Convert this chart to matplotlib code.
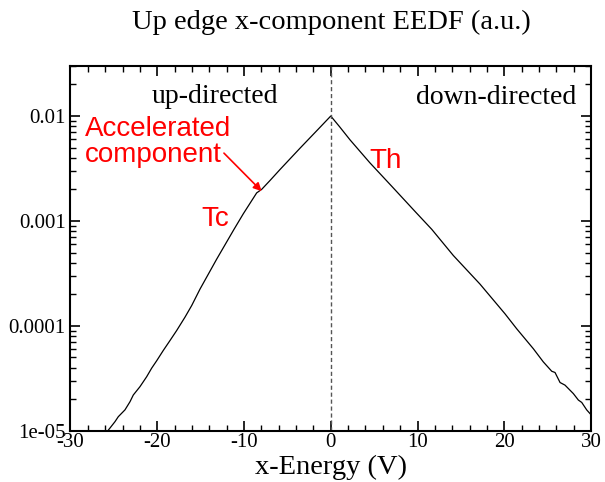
import numpy as np
import matplotlib
matplotlib.use("Agg")
import matplotlib.pyplot as plt
from matplotlib.ticker import FixedLocator, FixedFormatter, MultipleLocator, LogLocator, NullFormatter

plt.rcParams["font.family"] = ["Liberation Serif", "DejaVu Serif"]
plt.rcParams["axes.unicode_minus"] = False

# up-directed side (negative energy)
x_up = [-26.0, -25.45, -24.87, -24.49, -23.72, -23.14, -22.76, -21.99, -21.22, -20.64,
        -20.06, -19.30, -18.53, -17.76, -16.80, -16.03, -15.07, -13.15, -11.15, -10.08,
        -8.54, -7.96, -7.0, -5.85, -3.54, -1.5, 0.0]
eedf_up = [9.3e-6, 1.06e-5, 1.22e-5, 1.36e-5, 1.58e-5, 1.89e-5, 2.19e-5, 2.63e-5, 3.27e-5, 3.95e-5,
           4.65e-5, 5.83e-5, 7.24e-5, 9.02e-5, 1.21e-4, 1.56e-4, 2.24e-4, 4.32e-4, 8.32e-4, 1.17e-3,
           1.85e-3, 2.0e-3, 2.43e-3, 3.09e-3, 4.94e-3, 7.41e-3, 0.01]

# down-directed side (positive energy)
x_down = [0.0, 1.0, 2.22, 4.5, 7.03, 7.98, 9.8, 11.64, 14.13, 17.2, 20.09, 21.43, 23.35,
          24.5, 25.47, 25.85, 26.43, 27.0, 27.96, 28.54, 28.93, 29.5, 30.0]
eedf_down = [0.01, 7.94e-3, 5.93e-3, 3.59e-3, 2.14e-3, 1.76e-3, 1.21e-3, 8.32e-4, 4.68e-4, 2.50e-4,
             1.30e-4, 9.38e-5, 6.05e-5, 4.53e-5, 3.69e-5, 3.59e-5, 2.88e-5, 2.72e-5, 2.26e-5,
             1.96e-5, 1.86e-5, 1.58e-5, 1.42e-5]

x_ticks = [-30, -20, -10, 0, 10, 20, 30]
y_ticks = [1e-5, 1e-4, 1e-3, 1e-2]
y_labels = ["1e-05", "0.0001", "0.001", "0.01"]

fig = plt.figure(figsize=(6.05, 4.82), dpi=100)
ax = fig.add_axes([0.1165, 0.1064, 0.8604, 0.7567])

ax.plot(x_up + x_down[1:], eedf_up + eedf_down[1:], color="black", lw=0.9)
ax.axvline(0, color="#555555", lw=1.0, ls=(0, (3, 2)))

ax.set_yscale("log")
ax.set_xlim(-30, 30)
ax.set_ylim(1e-5, 0.03)

ax.xaxis.set_major_locator(FixedLocator(x_ticks))
ax.xaxis.set_minor_locator(MultipleLocator(2))
ax.yaxis.set_major_locator(FixedLocator(y_ticks))
ax.yaxis.set_major_formatter(FixedFormatter(y_labels))
ax.yaxis.set_minor_locator(LogLocator(base=10, subs=np.arange(2, 10)))
ax.yaxis.set_minor_formatter(NullFormatter())

ax.tick_params(which="both", direction="in", top=True, right=True, labelsize=15)
ax.tick_params(which="major", length=7, width=1.2)
ax.tick_params(which="minor", length=4, width=1.0)
ax.tick_params(axis="x", pad=2)
ax.tick_params(axis="y", pad=3.5)
for s in ax.spines.values():
    s.set_linewidth(1.5)

ax.set_xlabel("x-Energy (V)", fontsize=20.5, va="baseline")
ax.xaxis.set_label_coords(0.5, -0.1187)
fig.text(0.548, 0.9398, "Up edge x-component EEDF (a.u.)", fontsize=20.5,
         ha="center", va="baseline")

ax.text(0.156, 0.898, "up-directed", transform=ax.transAxes, fontsize=20, va="baseline")
ax.text(0.664, 0.896, "down-directed", transform=ax.transAxes, fontsize=20, va="baseline")

sans = ["Liberation Sans", "DejaVu Sans"]
# baseline of the last line ("component")
ax.text(0.028, 0.737, "Accelerated\ncomponent", transform=ax.transAxes, fontsize=20,
        color="red", family=sans, va="baseline", linespacing=1.02)
ax.text(0.252, 0.560, "Tc", transform=ax.transAxes, fontsize=20, color="red",
        family=sans, va="baseline")
ax.text(0.574, 0.721, "Th", transform=ax.transAxes, fontsize=20, color="red",
        family=sans, va="baseline")
ax.annotate("", xy=(-7.96, 1.92e-3), xytext=(-12.31, 4.43e-3),
            arrowprops=dict(arrowstyle="-|>", color="red", lw=1.2,
                            mutation_scale=12, shrinkA=0, shrinkB=0))

fig.savefig("out.png", dpi=100)
